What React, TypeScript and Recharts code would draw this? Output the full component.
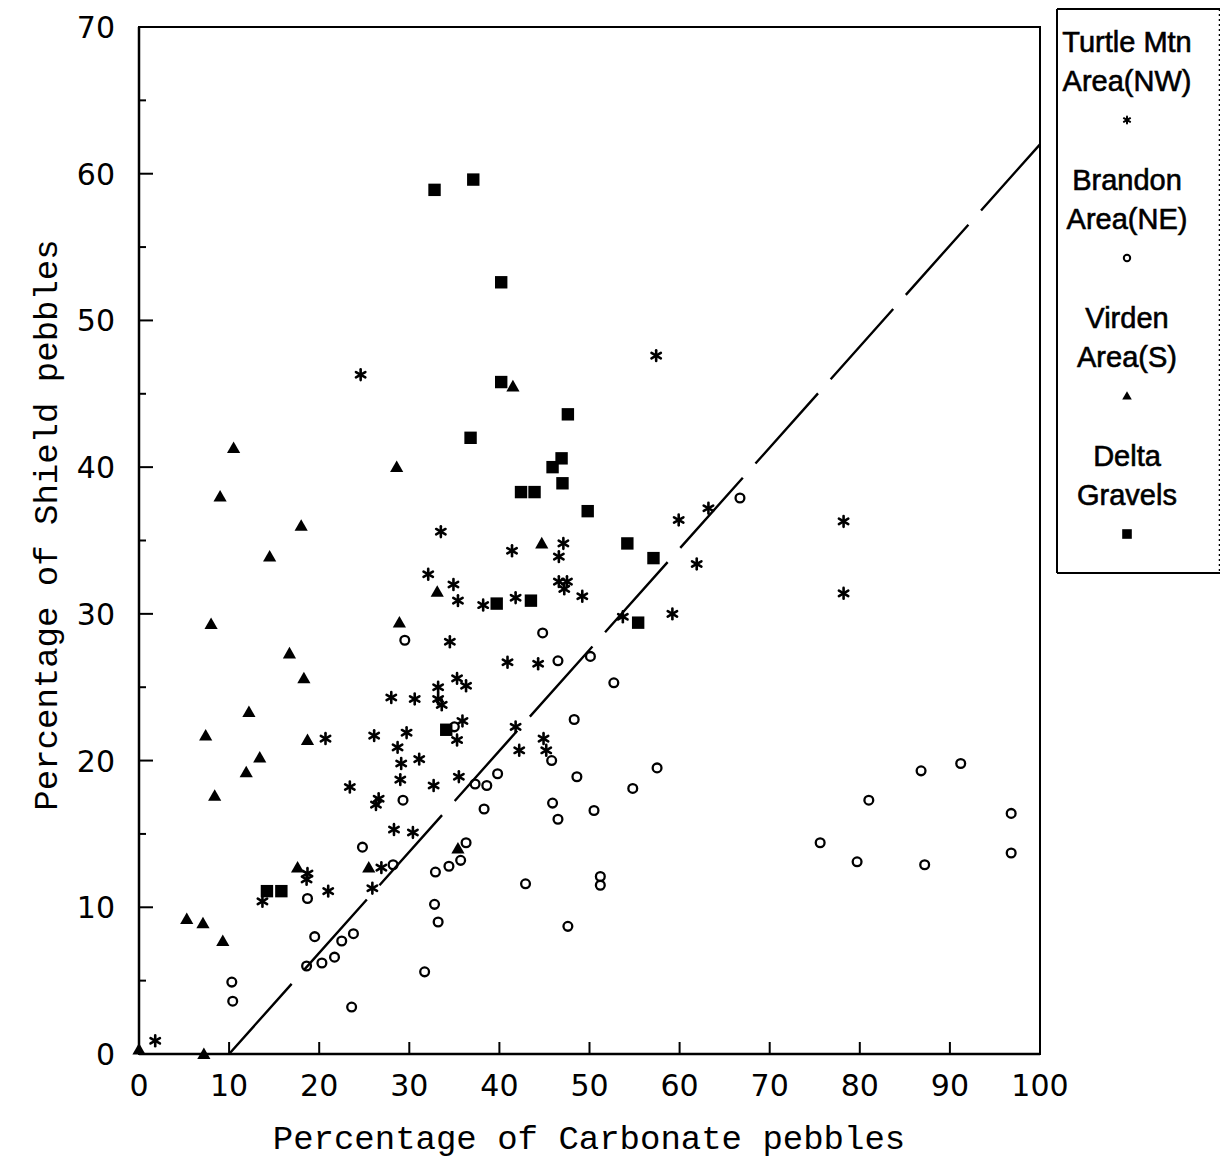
import React from "react"
import { ScatterChart, Scatter, XAxis, YAxis, ReferenceLine, ReferenceArea } from "recharts"

// [carbonate %, shield %] per sampling area
const turtleMtn: [number, number][] = [
  [24.6, 46.3], [33.5, 35.6], [41.4, 34.3], [32.1, 32.7], [34.9, 32.0], [35.4, 30.9], [38.2, 30.6],
  [41.8, 31.1], [34.5, 28.1], [40.9, 26.7], [44.3, 26.6], [35.3, 25.6], [33.2, 25.0], [36.3, 25.1],
  [28.0, 24.3], [30.6, 24.2], [33.2, 24.2], [33.6, 23.8], [35.9, 22.7], [26.1, 21.7], [29.7, 21.9],
  [20.7, 21.5], [35.3, 21.4], [28.7, 20.9], [31.1, 20.1], [29.1, 19.8], [29.0, 18.7], [35.5, 18.9],
  [32.7, 18.3], [23.4, 18.2], [26.3, 17.0], [26.6, 17.4], [28.3, 15.3], [30.4, 15.1], [26.9, 12.7],
  [25.9, 11.3], [18.7, 12.3], [18.6, 11.9], [21.0, 11.1], [13.7, 10.4], [1.8, 0.9], [41.8, 22.3],
  [42.2, 20.7], [44.9, 21.5], [45.2, 20.7], [57.4, 47.6], [59.9, 36.4], [63.2, 37.2], [78.2, 36.3],
  [78.2, 31.4], [61.9, 33.4], [59.2, 30.0], [53.7, 29.8], [47.1, 34.8], [46.6, 33.9], [46.6, 32.2],
  [47.5, 32.2], [47.2, 31.7], [49.2, 31.2],
]

const brandon: [number, number][] = [
  [29.5, 28.2], [44.8, 28.7], [29.3, 17.3], [24.8, 14.1], [28.2, 12.9], [37.3, 18.4], [38.6, 18.3],
  [39.8, 19.1], [38.3, 16.7], [36.3, 14.4], [35.7, 13.2], [34.4, 12.8], [32.9, 12.4], [32.8, 10.2],
  [33.2, 9.0], [31.7, 5.6], [42.9, 11.6], [18.7, 10.6], [19.5, 8.0], [22.5, 7.7], [23.8, 8.2],
  [18.6, 6.0], [20.3, 6.2], [21.7, 6.6], [10.3, 4.9], [10.4, 3.6], [23.6, 3.2], [66.7, 37.9],
  [46.5, 26.8], [50.1, 27.1], [52.7, 25.3], [35.0, 22.3], [48.3, 22.8], [45.8, 20.0], [48.6, 18.9],
  [45.9, 17.1], [46.5, 16.0], [50.5, 16.6], [54.8, 18.1], [57.5, 19.5], [51.2, 12.1], [51.2, 11.5],
  [47.6, 8.7], [75.6, 14.4], [79.7, 13.1], [81.0, 17.3], [86.8, 19.3], [87.2, 12.9], [91.2, 19.8],
  [96.8, 16.4], [96.8, 13.7],
]

const virden: [number, number][] = [
  [10.5, 41.3], [9.0, 38.0], [18.0, 36.0], [14.5, 33.9], [8.0, 29.3], [16.7, 27.3], [18.3, 25.6],
  [28.6, 40.0], [44.7, 34.8], [33.1, 31.5], [28.9, 29.4], [41.5, 45.5], [12.2, 23.3], [7.4, 21.7],
  [18.7, 21.4], [13.4, 20.2], [11.9, 19.2], [8.4, 17.6], [17.6, 12.7], [25.5, 12.7], [35.4, 14.0],
  [5.3, 9.2], [7.1, 8.9], [9.3, 7.7], [0, 0.3], [7.2, 0],
]

const deltaGravels: [number, number][] = [
  [32.8, 58.9], [37.1, 59.6], [40.2, 52.6], [40.2, 45.8], [36.8, 42.0], [47.6, 43.6], [46.9, 40.6],
  [45.9, 40.0], [47.0, 38.9], [42.4, 38.3], [43.9, 38.3], [49.8, 37.0], [54.2, 34.8], [57.1, 33.8],
  [43.5, 30.9], [39.7, 30.7], [55.4, 29.4], [34.1, 22.1], [14.2, 11.1], [15.8, 11.1],
]

// dashed reference line end points
const fitLine = [{ x: 10, y: 0 }, { x: 100, y: 62 }]

const xTicks = [0, 10, 20, 30, 40, 50, 60, 70, 80, 90, 100]
const yTicks = [0, 5, 10, 15, 20, 25, 30, 35, 40, 45, 50, 55, 60, 65, 70]

const legendLabels = [
  ["Turtle Mtn", "Area(NW)"],
  ["Brandon", "Area(NE)"],
  ["Virden", "Area(S)"],
  ["Delta", "Gravels"],
]

const toPoints = (rows: [number, number][]) => rows.map(([x, y]) => ({ x, y }))

function Asterisk({ cx, cy, s = 5.4, w = 2.6 }: any) {
  const d = s * 0.866
  return (
    <g stroke="#000" strokeWidth={w} strokeLinecap="round">
      <line x1={cx} y1={cy - s} x2={cx} y2={cy + s} />
      <line x1={cx - d} y1={cy - s / 2} x2={cx + d} y2={cy + s / 2} />
      <line x1={cx - d} y1={cy + s / 2} x2={cx + d} y2={cy - s / 2} />
    </g>
  )
}

function Ring({ cx, cy, r = 4.4, w = 2.3 }: any) {
  return <circle cx={cx} cy={cy} r={r} fill="none" stroke="#000" strokeWidth={w} />
}

function Tri({ cx, cy, s = 6.6 }: any) {
  return (
    <polygon
      points={`${cx},${cy - s} ${cx - s},${cy + s * 0.75} ${cx + s},${cy + s * 0.75}`}
      fill="#000"
    />
  )
}

function Square({ cx, cy, s = 6.2 }: any) {
  return <rect x={cx - s} y={cy - s} width={s * 2} height={s * 2} fill="#000" />
}

const tickFont = "'DejaVu Sans', sans-serif"
const titleFont = "'Liberation Mono', monospace"

function XTick({ x, y, payload }: any) {
  const v = payload.value
  return (
    <g>
      {v > 0 && v < 100 && <line x1={x} y1={y} x2={x} y2={y - 12} stroke="#000" strokeWidth={2} />}
      <text x={x} y={y + 42} textAnchor="middle" fontSize={30} fontFamily={tickFont} fill="#000">
        {v}
      </text>
    </g>
  )
}

function YTick({ x, y, payload }: any) {
  const v = payload.value
  const major = v % 10 === 0
  return (
    <g>
      {v > 0 && v < 70 && (
        <line x1={x} y1={y} x2={x + (major ? 14 : 7)} y2={y} stroke="#000" strokeWidth={2} />
      )}
      {major && (
        <text x={x - 24} y={y + 11} textAnchor="end" fontSize={30} fontFamily={tickFont} fill="#000">
          {v}
        </text>
      )}
    </g>
  )
}

function LegendBox() {
  const markers = [
    (cx: number, cy: number) => <Asterisk cx={cx} cy={cy} s={3.6} w={2} />,
    (cx: number, cy: number) => <Ring cx={cx} cy={cy} r={3.2} w={2} />,
    (cx: number, cy: number) => <Tri cx={cx} cy={cy} s={4.8} />,
    (cx: number, cy: number) => <Square cx={cx} cy={cy} s={4.8} />,
  ]
  const cx = 71
  return (
    <svg
      width={168}
      height={568}
      style={{ position: "absolute", left: 1048, top: 0 }}
    >
      <line x1={1} y1={1} x2={164} y2={1} stroke="#000" strokeWidth={2} />
      <line x1={1} y1={565} x2={164} y2={565} stroke="#000" strokeWidth={2} />
      <line x1={1} y1={1} x2={1} y2={565} stroke="#000" strokeWidth={2} />
      <line x1={164} y1={1} x2={164} y2={565} stroke="#000" strokeWidth={2.5} strokeDasharray="2 3" />
      {legendLabels.map((lines, i) => {
        const top = 34 + i * 138
        return (
          <g key={i}>
            {lines.map((t, j) => (
              <text
                key={j}
                x={cx}
                y={top + j * 39 + 10}
                textAnchor="middle"
                fontSize={29}
                fontFamily="'Liberation Sans', Arial, sans-serif"
                fill="#000"
                stroke="#000"
                strokeWidth={0.6}
              >
                {t}
              </text>
            ))}
            {markers[i](cx, top + 78)}
          </g>
        )
      })}
    </svg>
  )
}

export default function App() {
  return (
    <div style={{ position: "relative", width: 1220, height: 1155, background: "#fff", overflow: "hidden" }}>
      <ScatterChart width={1220} height={1155} margin={{ top: 19, right: 188, bottom: 49, left: 31 }}>
        <XAxis
          dataKey="x"
          type="number"
          domain={[0, 100]}
          ticks={xTicks}
          interval={0}
          height={60}
          tickSize={0}
          tickMargin={0}
          tickLine={false}
          axisLine={{ stroke: "#000", strokeWidth: 2.5 }}
          tick={<XTick />}
          label={{
            content: () => (
              <text x={581} y={1141} textAnchor="middle" fontSize={34} fontFamily={titleFont} fill="#000">
                Percentage of Carbonate pebbles
              </text>
            ),
          }}
        />
        <YAxis
          dataKey="y"
          type="number"
          domain={[0, 70]}
          ticks={yTicks}
          interval={0}
          width={100}
          tickSize={0}
          tickMargin={0}
          tickLine={false}
          axisLine={{ stroke: "#000", strokeWidth: 2.5 }}
          tick={<YTick />}
          label={{
            content: () => (
              <text
                x={49}
                y={517}
                transform="rotate(-90 49 517)"
                textAnchor="middle"
                fontSize={34}
                fontFamily={titleFont}
                fill="#000"
              >
                Percentage of Shield pebbles
              </text>
            ),
          }}
        />
        <ReferenceArea x1={0} x2={100} y1={0} y2={70} fill="none" stroke="#000" strokeWidth={2} />
        <ReferenceLine segment={fitLine} stroke="#000" strokeWidth={2.4} strokeDasharray="94 19" />
        <Scatter
          data={toPoints(brandon)}
          isAnimationActive={false}
          shape={(p: any) => <Ring cx={p.cx} cy={p.cy} />}
        />
        <Scatter
          data={toPoints(turtleMtn)}
          isAnimationActive={false}
          shape={(p: any) => <Asterisk cx={p.cx} cy={p.cy} />}
        />
        <Scatter
          data={toPoints(virden)}
          isAnimationActive={false}
          shape={(p: any) => <Tri cx={p.cx} cy={p.cy} />}
        />
        <Scatter
          data={toPoints(deltaGravels)}
          isAnimationActive={false}
          shape={(p: any) => <Square cx={p.cx} cy={p.cy} />}
        />
      </ScatterChart>
      <LegendBox />
    </div>
  )
}
